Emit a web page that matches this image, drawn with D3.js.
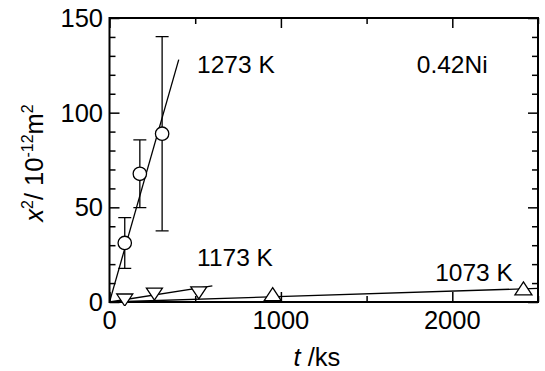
<!DOCTYPE html>
<html><head><meta charset="utf-8">
<script src="https://cdn.jsdelivr.net/npm/d3@7"></script>
<style>
html,body{margin:0;padding:0;background:#fff;}
text{font-family:"Liberation Sans",Arial,Helvetica,sans-serif;fill:#000;}
</style></head>
<body><svg id="c" width="545" height="371"></svg>
<script>
// ---- data ----
const t1273 = [89, 177, 307];
const v1273 = [31.2, 67.7, 88.9];
const e1273 = [13.4, 17.9, 51.3];
const fitT1273 = [0, 404];
const fitV1273 = [0, 128];

const t1173 = [89, 262, 521];
const v1173 = [2.1, 5.2, 5.9];
const fitT1173 = [0, 600];
const fitV1173 = [0, 8.5];

const t1073 = [952, 2415];
const v1073 = [3.0, 6.0];
const fitT1073 = [0, 2500];
const fitV1073 = [0, 7.2];

const xMajor = [0, 1000, 2000];
const xMinor = [500, 1500, 2500];
const yMajor = [0, 50, 100, 150];
const yMinor = [10, 20, 30, 40, 60, 70, 80, 90, 110, 120, 130, 140];

const labels = [
  {text: "1273 K", t: 511, v: 121},
  {text: "1173 K", t: 511, v: 19},
  {text: "1073 K", t: 1900, v: 11},
  {text: "0.42Ni", t: 1793, v: 121}
];

// ---- layout ----
const svg = d3.select("#c");
const L = 109.5, R = 538, T = 18, B = 302;
const x = d3.scaleLinear().domain([0, 2500]).range([L, R]);
const y = d3.scaleLinear().domain([0, 150]).range([B, T]);

const defs = svg.append("defs");
defs.append("clipPath").attr("id", "plot").append("rect")
  .attr("x", L).attr("y", T - 10).attr("width", R - L + 6).attr("height", B - T + 14);

// axes with inward ticks
function axis(gen, tr, vals, len) {
  const g = svg.append("g").attr("transform", tr)
    .call(gen.tickValues(vals).tickSize(len).tickFormat(""));
  g.select(".domain").remove();
  g.selectAll("line").attr("stroke", "#000").attr("stroke-width", 1.5);
  return g;
}
axis(d3.axisTop(x), `translate(0,${B})`, xMajor, 10);
axis(d3.axisTop(x), `translate(0,${B})`, xMinor, 6);
axis(d3.axisBottom(x), `translate(0,${T})`, xMajor, 10);
axis(d3.axisBottom(x), `translate(0,${T})`, xMinor, 6);
axis(d3.axisRight(y), `translate(${L},0)`, yMajor, 10);
axis(d3.axisRight(y), `translate(${L},0)`, yMinor, 6);
axis(d3.axisLeft(y), `translate(${R},0)`, yMajor, 10);
axis(d3.axisLeft(y), `translate(${R},0)`, yMinor, 6);

// tick labels
svg.append("g").selectAll("text").data(xMajor).join("text")
  .attr("x", d => x(d)).attr("y", 329).attr("text-anchor", "middle")
  .attr("font-size", 25.5).text(d => d);
svg.append("g").selectAll("text").data(yMajor).join("text")
  .attr("x", 103).attr("y", d => y(d)).attr("dy", "0.35em").attr("text-anchor", "end")
  .attr("font-size", 25.5).text(d => d);

// frame
svg.append("rect").attr("x", L).attr("y", T).attr("width", R - L).attr("height", B - T)
  .attr("fill", "none").attr("stroke", "#000").attr("stroke-width", 2);

const plot = svg.append("g").attr("clip-path", "url(#plot)");
const line = d3.line().x(d => x(d[0])).y(d => y(d[1]));

// fit lines
[[fitT1273, fitV1273], [fitT1173, fitV1173], [fitT1073, fitV1073]].forEach(([ts, vs]) => {
  plot.append("path").datum(ts.map((t, i) => [t, vs[i]])).attr("d", line)
    .attr("fill", "none").attr("stroke", "#000").attr("stroke-width", 1.3);
});

// error bars 1273
const eb = plot.append("g").attr("stroke", "#000").attr("stroke-width", 1.3);
t1273.forEach((t, i) => {
  const cx = x(t), y1 = y(v1273[i] + e1273[i]), y0 = y(v1273[i] - e1273[i]);
  eb.append("line").attr("x1", cx).attr("x2", cx).attr("y1", y1).attr("y2", y0);
  eb.append("line").attr("x1", cx - 6.5).attr("x2", cx + 6.5).attr("y1", y1).attr("y2", y1);
  eb.append("line").attr("x1", cx - 6.5).attr("x2", cx + 6.5).attr("y1", y0).attr("y2", y0);
});

// circles
plot.append("g").selectAll("circle").data(t1273.map((t, i) => [t, v1273[i]])).join("circle")
  .attr("cx", d => x(d[0])).attr("cy", d => y(d[1])).attr("r", 6.7)
  .attr("fill", "#fff").attr("stroke", "#000").attr("stroke-width", 1.3);

// triangles
function tri(cx, cy, up, w, h) {
  if (up) return `M${cx},${cy - 2 * h / 3}L${cx + w / 2},${cy + h / 3}L${cx - w / 2},${cy + h / 3}Z`;
  return `M${cx},${cy + 2 * h / 3}L${cx + w / 2},${cy - h / 3}L${cx - w / 2},${cy - h / 3}Z`;
}
plot.append("g").selectAll("path").data(t1173.map((t, i) => [t, v1173[i]])).join("path")
  .attr("d", d => tri(x(d[0]), y(d[1]), false, 16, 12))
  .attr("fill", "#fff").attr("stroke", "#000").attr("stroke-width", 1.3);
plot.append("g").selectAll("path").data(t1073.map((t, i) => [t, v1073[i]])).join("path")
  .attr("d", d => tri(x(d[0]), y(d[1]), true, 17, 13))
  .attr("fill", "#fff").attr("stroke", "#000").attr("stroke-width", 1.3);

// labels
svg.append("g").selectAll("text").data(labels).join("text")
  .attr("x", d => x(d.t)).attr("y", d => y(d.v)).attr("font-size", 24.5).text(d => d.text);

// axis titles
const xt = svg.append("text").attr("x", 317).attr("y", 366).attr("text-anchor", "middle").attr("font-size", 25.5);
xt.append("tspan").attr("font-style", "italic").text("t");
xt.append("tspan").text(" /ks");

const yt = svg.append("text").attr("transform", "translate(43,163) rotate(-90)")
  .attr("text-anchor", "middle").attr("font-size", 25.5);
yt.append("tspan").attr("font-style", "italic").text("x");
yt.append("tspan").attr("font-size", 16).attr("dy", -10).text("2");
yt.append("tspan").attr("dy", 10).text("/ 10");
yt.append("tspan").attr("font-size", 16).attr("dy", -10).text("-12");
yt.append("tspan").attr("dy", 10).text("m");
yt.append("tspan").attr("font-size", 16).attr("dy", -10).text("2");
</script></body></html>
